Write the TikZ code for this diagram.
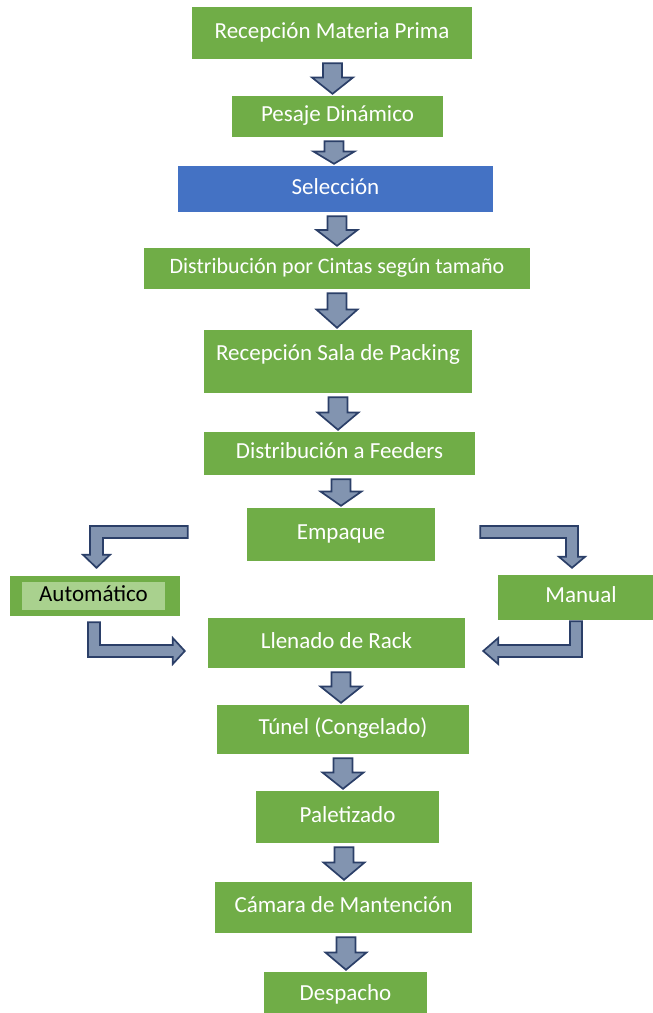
\documentclass[tikz,border=0pt]{standalone}
\usepackage{fontspec}
\setmainfont{Carlito}
\usetikzlibrary{calc}

\definecolor{boxgreen}{HTML}{70AD47}
\definecolor{boxblue}{HTML}{4472C4}
\definecolor{palegreen}{HTML}{A9D18E}
\definecolor{arrowfill}{HTML}{8294B0}
\definecolor{arrowline}{HTML}{2B3F68}

\tikzset{
  stage/.style={fill=boxgreen, text=white, inner sep=0pt,
    font=\fontsize{23}{27}\selectfont, text height=14.5pt, text depth=4pt},
  bluestage/.style={stage, fill=boxblue},
  flowarrow/.style={fill=arrowfill, draw=arrowline, line width=1.7pt, line join=miter},
}

% block arrow pointing down from node #1 to node #2, centred at x = #3
\newcommand{\downflow}[3]{%
  \draw[flowarrow] let \p1=(#1.south), \p2=(#2.north), \p3=($(\p1)!0.5!(\p2)$) in
    (#3pt-9.5pt,\y1-4pt) -- (#3pt+9.5pt,\y1-4pt) -- (#3pt+9.5pt,\y3)
    -- (#3pt+20.5pt,\y3) -- (#3pt,\y2+2pt) -- (#3pt-20.5pt,\y3)
    -- (#3pt-9.5pt,\y3) -- cycle;}

\begin{document}
\begin{tikzpicture}[x=1pt,y=-1pt]
\clip (0,0) rectangle (653,1013);

% process stages
\node[stage, minimum width=280pt, minimum height=52pt] (rmp) at (332,33) {Recepción Materia Prima};
\node[stage, minimum width=211pt, minimum height=41pt] (pes) at (337.5,116.5) {Pesaje Dinámico};
\node[bluestage, minimum width=315pt, minimum height=46pt] (sel) at (335.5,189) {Selección};
\node[stage, minimum width=386pt, minimum height=41pt, font=\fontsize{22}{26}\selectfont] (dist) at (337,268.5) {Distribución por Cintas según tamaño};
\node[stage, minimum width=268pt, minimum height=63pt, text depth=17pt] (rsp) at (338,361.5) {Recepción Sala de Packing};
\node[stage, minimum width=271pt, minimum height=43pt] (feed) at (339.5,453.5) {Distribución a Feeders};
\node[stage, minimum width=188pt, minimum height=53pt] (emp) at (341,534.5) {Empaque};

\node[stage, minimum width=170pt, minimum height=40pt] (auto) at (95,596) {};
\node[stage, fill=palegreen, text=black, minimum width=143pt, minimum height=28pt] (autolbl) at (93.5,596) {Automático};
\node[stage, minimum width=166pt, minimum height=45pt] (man) at (581,597.5) {Manual};

\node[stage, minimum width=257pt, minimum height=50pt] (llen) at (336.5,643) {Llenado de Rack};
\node[stage, minimum width=252pt, minimum height=49pt] (tun) at (343,729.5) {Túnel (Congelado)};
\node[stage, minimum width=183pt, minimum height=52pt] (pal) at (347.5,817) {Paletizado};
\node[stage, minimum width=257pt, minimum height=51pt] (cam) at (343.5,907.5) {Cámara de Mantención};
\node[stage, minimum width=163pt, minimum height=46pt] (desp) at (345.5,995) {Despacho};

% straight flow arrows
\downflow{rmp}{pes}{332.5}
\downflow{pes}{sel}{334}
\downflow{sel}{dist}{337}
\downflow{dist}{rsp}{337}
\downflow{rsp}{feed}{338}
\downflow{feed}{emp}{341}
\downflow{llen}{tun}{341}
\downflow{tun}{pal}{343}
\downflow{pal}{cam}{344}
\downflow{cam}{desp}{346}

% Empaque -> Automático
\draw[flowarrow] let \p1=(emp.west), \p2=(auto.north) in
  (\x1-59pt,\y1+8.5pt) -- (\x2-5pt,\y1+8.5pt) -- (\x2-5pt,\y2+21pt)
  -- (\x2-12pt,\y2+21pt) -- (\x2+1.5pt,\y2+8pt) -- (\x2+15pt,\y2+21pt)
  -- (\x2+8pt,\y2+21pt) -- (\x2+8pt,\y1-3.5pt) -- (\x1-59pt,\y1-3.5pt) -- cycle;

% Empaque -> Manual
\draw[flowarrow] let \p1=(emp.east), \p2=(man.north) in
  (\x1+45pt,\y1+8.5pt) -- (\x2-3pt,\y1+8.5pt) -- (\x2-3pt,\y2+18pt)
  -- (\x2+4pt,\y2+18pt) -- (\x2-9pt,\y2+7pt) -- (\x2-22pt,\y2+18pt)
  -- (\x2-15pt,\y2+18pt) -- (\x2-15pt,\y1-3.5pt) -- (\x1+45pt,\y1-3.5pt) -- cycle;

% Automático -> Llenado de Rack
\draw[flowarrow] let \p1=(auto.south), \p2=(llen.west) in
  (\x1-7pt,\y1-6pt) -- (\x1+5pt,\y1-6pt) -- (\x1+5pt,\y2-2pt)
  -- (\x2-35pt,\y2-2pt) -- (\x2-35pt,\y2+5pt) -- (\x2-23pt,\y2-8pt)
  -- (\x2-35pt,\y2-21pt) -- (\x2-35pt,\y2-14pt) -- (\x1-7pt,\y2-14pt) -- cycle;

% Manual -> Llenado de Rack
\draw[flowarrow] let \p1=(man.south), \p2=(llen.east) in
  (\x1+1pt,\y1-1pt) -- (\x1-11pt,\y1-1pt) -- (\x1-11pt,\y2-2pt)
  -- (\x2+33pt,\y2-2pt) -- (\x2+33pt,\y2+5pt) -- (\x2+18pt,\y2-8pt)
  -- (\x2+33pt,\y2-21pt) -- (\x2+33pt,\y2-14pt) -- (\x1+1pt,\y2-14pt) -- cycle;
\end{tikzpicture}
\end{document}
